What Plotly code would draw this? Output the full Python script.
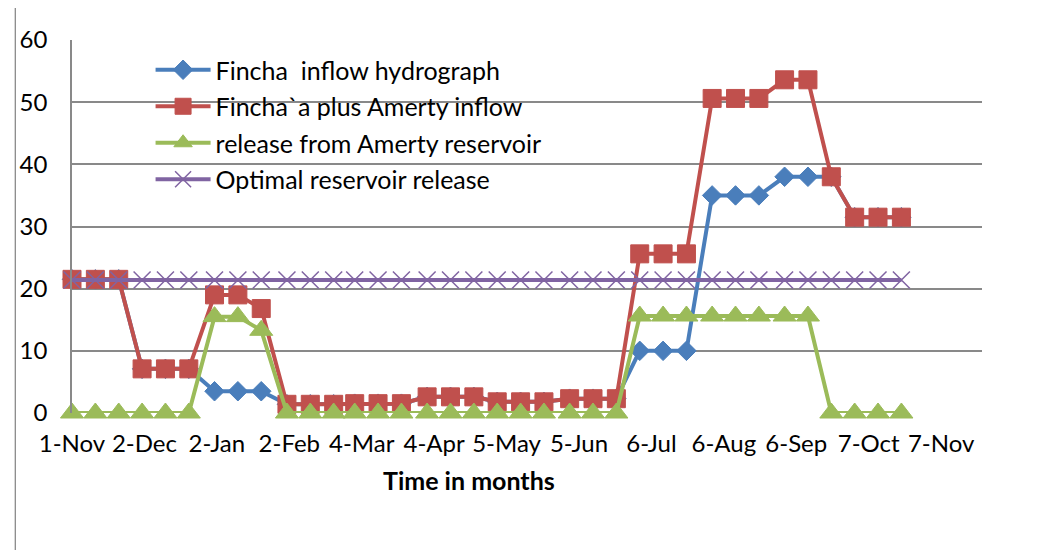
import plotly.graph_objects as go

# ---- data ----
dates = [
    "2011-11-01", "2011-11-11", "2011-11-21",
    "2011-12-01", "2011-12-11", "2011-12-21",
    "2012-01-01", "2012-01-11", "2012-01-21",
    "2012-02-01", "2012-02-11", "2012-02-21",
    "2012-03-01", "2012-03-11", "2012-03-21",
    "2012-04-01", "2012-04-11", "2012-04-21",
    "2012-05-01", "2012-05-11", "2012-05-21",
    "2012-06-01", "2012-06-11", "2012-06-21",
    "2012-07-01", "2012-07-11", "2012-07-21",
    "2012-08-01", "2012-08-11", "2012-08-21",
    "2012-09-01", "2012-09-11", "2012-09-21",
    "2012-10-01", "2012-10-11", "2012-10-21",
]

fincha_inflow = [
    21.5, 21.5, 21.5, 7.1, 7.1, 7.1, 3.5, 3.5, 3.5,
    1.4, 1.4, 1.4, 1.5, 1.5, 1.5, 2.6, 2.6, 2.6,
    1.8, 1.8, 1.8, 2.3, 2.3, 2.3, 10.0, 10.0, 10.0,
    35.0, 35.0, 35.0, 38.0, 38.0, 38.0, 31.5, 31.5, 31.5,
]
fincha_plus_amerty = [
    21.5, 21.5, 21.5, 7.1, 7.1, 7.1, 19.0, 19.0, 16.8,
    1.4, 1.4, 1.4, 1.5, 1.5, 1.5, 2.6, 2.6, 2.6,
    1.8, 1.8, 1.8, 2.3, 2.3, 2.3, 25.6, 25.6, 25.6,
    50.6, 50.6, 50.6, 53.6, 53.6, 38.0, 31.5, 31.5, 31.5,
]
amerty_release = [
    0, 0, 0, 0, 0, 0, 15.5, 15.5, 13.3,
    0, 0, 0, 0, 0, 0, 0, 0, 0,
    0, 0, 0, 0, 0, 0, 15.6, 15.6, 15.6,
    15.6, 15.6, 15.6, 15.6, 15.6, 0, 0, 0, 0,
]
optimal_release = [21.4] * 36

tick_dates = [
    "2011-11-01", "2011-12-02", "2012-01-02", "2012-02-02", "2012-03-04",
    "2012-04-04", "2012-05-05", "2012-06-05", "2012-07-06", "2012-08-06",
    "2012-09-06", "2012-10-07", "2012-11-07",
]
tick_labels = [
    "1-Nov", "2-Dec", "2-Jan", "2-Feb", "4-Mar", "4-Apr", "5-May",
    "5-Jun", "6-Jul", "6-Aug", "6-Sep", "7-Oct", "7-Nov",
]
y_ticks = [0, 10, 20, 30, 40, 50, 60]

names = [
    "Fincha\u00a0 inflow hydrograph",
    "Fincha`a plus Amerty inflow",
    "release from Amerty reservoir",
    "Optimal reservoir release",
]

# ---- figure ----
OFF = 8  # page body margin
W, H = 1041 - OFF, 550 - OFF
L, R, T, B = 67 - OFF, 982 - OFF, 40 - OFF, 413 - OFF


def px(x):  # screen px -> paper
    return (x - OFF - L) / (R - L)


def py(y):
    return (B - (y - OFF)) / (B - T)


FONT = "Lato"
GRID = "#898989"

fig = go.Figure()
series = [
    (fincha_inflow, "#4A7EBB", dict(symbol="diamond", size=15)),
    (fincha_plus_amerty, "#C0504D", dict(symbol="square", size=18)),
    (amerty_release, "#9BBB59", dict(symbol="triangle-up", size=20)),
    (optimal_release, "#8064A2", dict(symbol="x-thin", size=17)),
]
for i, (vals, col, mk) in enumerate(series):
    marker = dict(color=col, **mk)
    if mk["symbol"] == "x-thin":
        marker["line"] = dict(color=col, width=1.5)
    else:
        marker["line"] = dict(color=col, width=1)
    fig.add_trace(go.Scatter(
        x=dates, y=vals, name=names[i], mode="lines+markers",
        line=dict(color=col, width=4), marker=marker,
        legendgroup="g%d" % i, cliponaxis=False,
    ))

fig.update_layout(
    width=W, height=H,
    margin=dict(l=L, r=W - R, t=T, b=H - B),
    paper_bgcolor="white", plot_bgcolor="white",
    font=dict(family=FONT, size=24, color="black"),
    showlegend=True,
    legend=dict(
        x=px(146), y=py(47), xanchor="left", yanchor="top",
        bgcolor="rgba(0,0,0,0)", borderwidth=0,
        font=dict(family=FONT, size=25, color="black"),
        itemwidth=55, traceorder="grouped", tracegroupgap=1,
    ),
    xaxis=dict(
        type="date",
        range=["2011-11-01", "2012-11-24 12:00"],
        tickvals=tick_dates, ticktext=tick_labels,
        showgrid=False, zeroline=False,
        showline=False, ticks="", ticklabelstandoff=14,
        tickfont=dict(family=FONT, size=24),
    ),
    yaxis=dict(
        range=[0, 60], tickvals=y_ticks,
        showgrid=True, gridcolor=GRID, gridwidth=1.5,
        zeroline=False, showline=True, linecolor=GRID, linewidth=1.5,
        ticks="", ticklabelstandoff=18,
        tickfont=dict(family=FONT, size=24),
    ),
    shapes=[
        # white legend box covering gridlines
        dict(type="rect", xref="paper", yref="paper",
             x0=px(76), x1=px(585), y0=py(198), y1=py(53),
             fillcolor="white", line=dict(width=0), layer="between"),
        # outer chart border
        dict(type="rect", xref="paper", yref="paper",
             x0=px(10), x1=px(1046), y0=py(556), y1=py(7),
             fillcolor="rgba(0,0,0,0)", line=dict(color="#8a8a8a", width=1.3),
             layer="above"),
    ],
    annotations=[
        dict(text="<b>Time in months</b>", xref="paper", yref="paper",
             x=px(466), y=py(480), xanchor="center", yanchor="middle",
             showarrow=False, font=dict(family=FONT, size=25, color="black")),
    ],
)

fig.write_html("out.html")
